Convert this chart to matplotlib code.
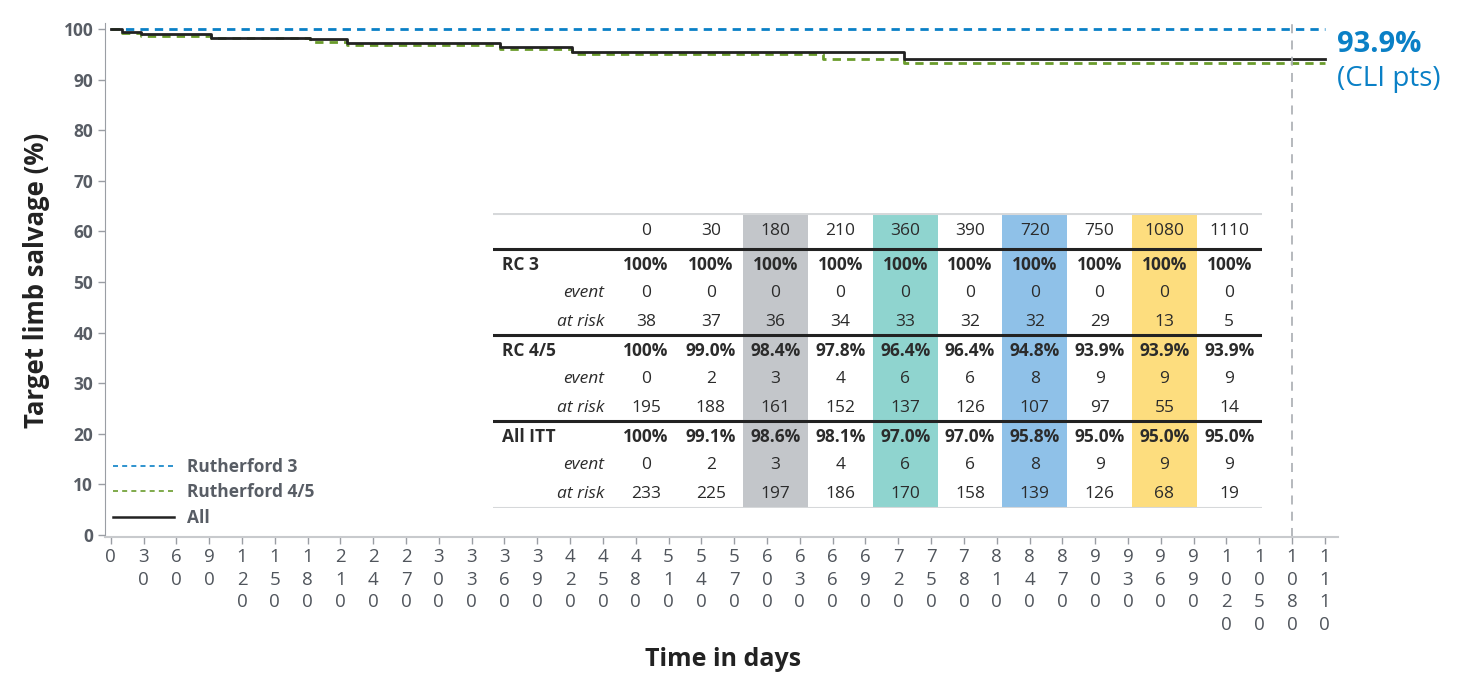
import numpy as np
import matplotlib.pyplot as plt
from matplotlib.lines import Line2D

plt.rcParams['font.family'] = ['Open Sans', 'DejaVu Sans']

# Courbes de survie (jours, % de sauvegarde du membre)
rc3_t = [0, 1110]
rc3_s = [100, 100]
rc45_t = [0, 10, 28, 92, 182, 216, 356, 422, 651, 725, 1110]
rc45_s = [100, 99.15, 98.7, 98.2, 97.4, 96.9, 96.0, 95.1, 94.0, 93.2, 93.2]
all_t = [0, 10, 28, 92, 182, 216, 356, 422, 725, 1110]
all_s = [100, 99.5, 99.0, 98.3, 98.0, 97.2, 96.5, 95.5, 94.0, 94.0]

# Tableau des sujets à risque
tab_days = [0, 30, 180, 210, 360, 390, 720, 750, 1080, 1110]
rc3_pct = ["100%"] * 10
rc3_evt = [0, 0, 0, 0, 0, 0, 0, 0, 0, 0]
rc3_risk = [38, 37, 36, 34, 33, 32, 32, 29, 13, 5]
rc45_pct = ["100%", "99.0%", "98.4%", "97.8%", "96.4%", "96.4%", "94.8%", "93.9%", "93.9%", "93.9%"]
rc45_evt = [0, 2, 3, 4, 6, 6, 8, 9, 9, 9]
rc45_risk = [195, 188, 161, 152, 137, 126, 107, 97, 55, 14]
itt_pct = ["100%", "99.1%", "98.6%", "98.1%", "97.0%", "97.0%", "95.8%", "95.0%", "95.0%", "95.0%"]
itt_evt = [0, 2, 3, 4, 6, 6, 8, 9, 9, 9]
itt_risk = [233, 225, 197, 186, 170, 158, 139, 126, 68, 19]
highlight = {2: "#c3c6ca", 4: "#8fd4cf", 6: "#8fc1e8", 8: "#fddd7e"}

BLUE = "#0a80c6"
GREEN = "#6a9c2c"
BLACK = "#222222"
GRAY = "#585d65"

W, H = 1457, 677
fig = plt.figure(figsize=(W / 100, H / 100), dpi=100)
ax = fig.add_axes([105 / W, (H - 537) / H, (1338 - 105) / W, (537 - 23) / H])

ax.step(rc3_t, rc3_s, where="post", color=BLUE, lw=2, dashes=(3, 2.2))
ax.step(rc45_t, rc45_s, where="post", color=GREEN, lw=2, dashes=(3, 2.2))
ax.step(all_t, all_s, where="post", color=BLACK, lw=2)
ax.axvline(1080, color="#b0b3b8", lw=1.3, dashes=(5, 4))

ax.set_xlim(-5.2, 1122)
ax.set_ylim(-0.4, 101.2)
xt = np.arange(0, 1111, 30)
ax.set_xticks(xt)
ax.set_xticklabels(["\n".join(str(v)) for v in xt], fontsize=13.5, color="#50555c",
                   linespacing=1.33, va="top")
ax.set_yticks(np.arange(0, 101, 10))
ax.set_yticklabels([str(v) for v in range(0, 101, 10)], fontsize=12.5,
                   color=GRAY, fontweight="bold")
ax.tick_params(axis="both", color="#9a9ea4", length=5, width=1)
ax.tick_params(axis="x", pad=3)
for s in ["top", "right"]:
    ax.spines[s].set_visible(False)
ax.spines["left"].set_color("#9a9ea4")
ax.spines["bottom"].set_color("#c8cacd")
ax.spines["bottom"].set_linewidth(1.5)

ax.set_ylabel("Target limb salvage (%)", fontsize=18.5, fontweight="bold",
              color=BLACK, labelpad=10)
fig.text(723 / W, 1 - 660 / H, "Time in days", fontsize=18, fontweight="bold",
         color=BLACK, ha="center", va="center")

handles = [Line2D([], [], color=BLUE, lw=1.2, dashes=(3, 2.5)),
           Line2D([], [], color=GREEN, lw=1.2, dashes=(3, 2.5)),
           Line2D([], [], color=BLACK, lw=1.8)]
leg = ax.legend(handles, ["Rutherford 3", "Rutherford 4/5", "All"],
                loc="lower left", bbox_to_anchor=(-0.002, 0.0), frameon=False,
                prop={"size": 12.5, "weight": "bold"}, handlelength=3.5,
                handletextpad=0.75, labelspacing=0.42, borderaxespad=0.2)
for t in leg.get_texts():
    t.set_color(GRAY)

fig.text(1337 / W, 1 - 45 / H, "93.9%", fontsize=21, fontweight="bold",
         color=BLUE, ha="left", va="center")
fig.text(1337 / W, 1 - 79 / H, "(CLI pts)", fontsize=20, color=BLUE,
         ha="left", va="center")

# Tableau en coordonnées pixels
tx0, ty0, tw, th = 493, 213, 769, 295
tax = fig.add_axes([tx0 / W, (H - ty0 - th) / H, tw / W, th / H])
tax.set_xlim(0, tw)
tax.set_ylim(th, 0)
tax.axis("off")
col0, dcol = 153, 64.8
for i, c in highlight.items():
    tax.axvspan(col0 + dcol * i - dcol / 2, col0 + dcol * i + dcol / 2,
                color=c, lw=0)
tax.axhline(0.5, color="#d6d8da", lw=1.5)
tax.axhline(th - 0.5, color="#d6d8da", lw=1.5)
for yl in [36, 122, 208]:
    tax.axhline(yl, color=BLACK, lw=2.2)

TXT = "#2b2b2b"
FS = 12.5
for i, d in enumerate(tab_days):
    tax.text(col0 + dcol * i, 18, str(d), ha="center", va="center",
             fontsize=FS, color=TXT)

groups = [("RC 3", rc3_pct, rc3_evt, rc3_risk, 52),
          ("RC 4/5", rc45_pct, rc45_evt, rc45_risk, 138),
          ("All ITT", itt_pct, itt_evt, itt_risk, 224)]
for name, pct, evt, risk, y in groups:
    tax.text(9, y, name, ha="left", va="center", fontsize=FS,
             fontweight="bold", color=TXT)
    tax.text(111, y + 28, "event", ha="right", va="center", fontsize=FS,
             style="italic", color=TXT)
    tax.text(111, y + 56.5, "at risk", ha="right", va="center", fontsize=FS,
             style="italic", color=TXT)
    for i in range(len(tab_days)):
        x = col0 + dcol * i
        tax.text(x, y, pct[i], ha="center", va="center", fontsize=FS,
                 fontweight="bold", color=TXT)
        tax.text(x, y + 28, str(evt[i]), ha="center", va="center",
                 fontsize=FS, color=TXT)
        tax.text(x, y + 56.5, str(risk[i]), ha="center", va="center",
                 fontsize=FS, color=TXT)

fig.savefig("out.png", dpi=100)
